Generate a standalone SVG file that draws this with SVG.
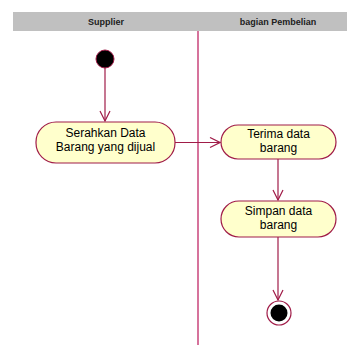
<svg xmlns="http://www.w3.org/2000/svg" width="347" height="345" viewBox="0 0 347 345">
  <style>
    .lane-head { fill: #c0c0c0; }
    .lane-title { font-family: "Liberation Sans", Arial, sans-serif; font-size: 9px; font-weight: bold; fill: #202020; text-anchor: middle; }
    .divider { stroke: #d6739c; stroke-width: 2; fill: none; }
    .action rect { fill: #ffffcc; stroke: #a01c48; stroke-width: 1.2; }
    .action text { font-family: "Liberation Sans", Arial, sans-serif; font-size: 12px; fill: #000; text-anchor: middle; }
    .flow { stroke: #a01c48; stroke-width: 1.2; fill: none; marker-end: url(#open-arrow); }
  </style>
  <defs>
    <marker id="open-arrow" viewBox="0 0 12 12" refX="11" refY="6" markerWidth="12" markerHeight="12" markerUnits="userSpaceOnUse" orient="auto">
      <path d="M1,1 L11,6 L1,11" fill="none" stroke="#a01c48" stroke-width="1.2"/>
    </marker>
  </defs>
  <rect width="347" height="345" fill="#ffffff"/>

  <!-- swimlane headers -->
  <g id="lanes">
    <rect class="lane-head" x="13" y="12" width="334" height="19"/>
    <text class="lane-title" x="106" y="25">Supplier</text>
    <text class="lane-title" x="278" y="25">bagian Pembelian</text>
    <line class="divider" x1="198" y1="31" x2="198" y2="345"/>
  </g>

  <!-- connectors -->
  <g id="connectors">
    <line class="flow" x1="105" y1="68" x2="105" y2="121"/>
    <line class="flow" x1="175" y1="142.5" x2="220" y2="142.5"/>
    <line class="flow" x1="278" y1="159" x2="278" y2="200"/>
    <line class="flow" x1="278" y1="237" x2="278" y2="300"/>
  </g>

  <g id="start">
    <circle cx="105" cy="59" r="9" fill="#000" stroke="#a01c48" stroke-width="1"/>
  </g>

  <g id="serahkan" class="action">
    <rect x="36" y="122" width="139" height="41" rx="20" ry="20"/>
    <text x="105.5" y="137">Serahkan Data</text>
    <text x="105.5" y="151">Barang yang dijual</text>
  </g>

  <g id="terima" class="action">
    <rect x="221" y="125" width="115" height="34" rx="17" ry="17"/>
    <text x="278.5" y="138">Terima data</text>
    <text x="278.5" y="152">barang</text>
  </g>

  <g id="simpan" class="action">
    <rect x="221" y="201" width="115" height="36" rx="18" ry="18"/>
    <text x="278.5" y="215">Simpan data</text>
    <text x="278.5" y="229">barang</text>
  </g>

  <g id="end">
    <circle cx="279" cy="313" r="12" fill="#fff" stroke="#a01c48" stroke-width="1.2"/>
    <circle cx="279" cy="313" r="8.5" fill="#000"/>
  </g>
</svg>
